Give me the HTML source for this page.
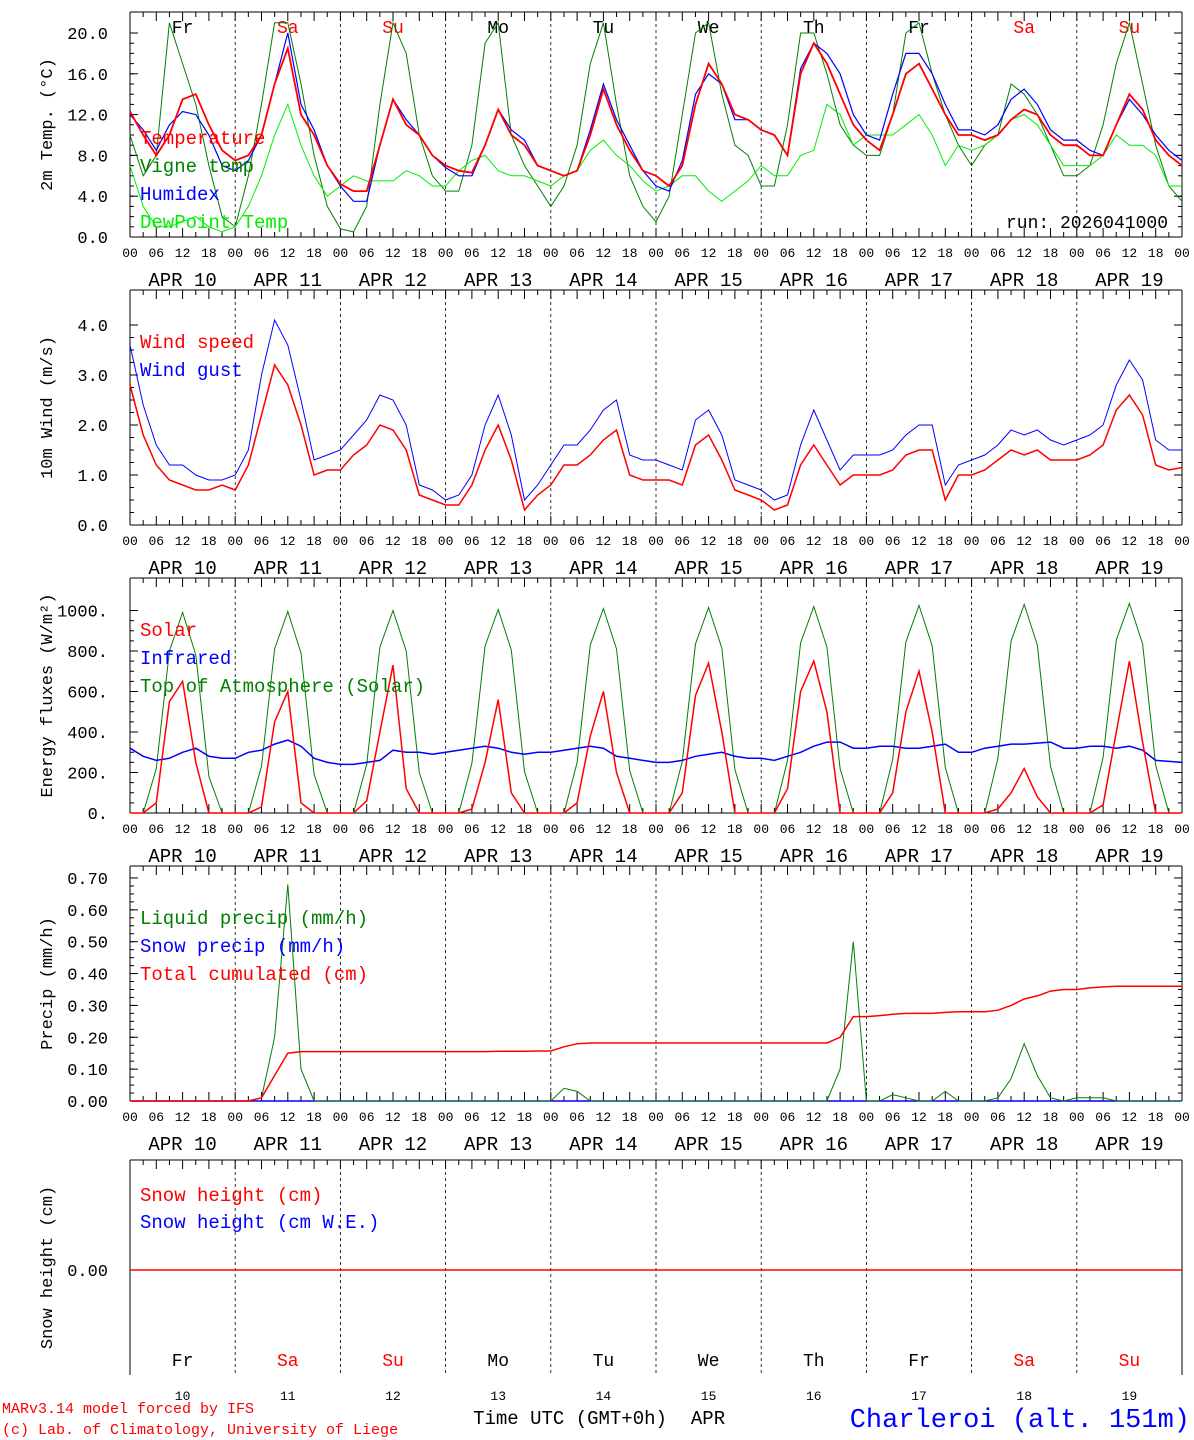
<!DOCTYPE html>
<html><head><meta charset="utf-8"><style>
html,body{margin:0;padding:0;background:#fff}
svg{display:block;font-family:"Liberation Mono","DejaVu Sans Mono",monospace}
</style></head><body>
<svg id="c" width="1194" height="1440" viewBox="0 0 1194 1440"></svg>
<script>
// ---- data (3-hourly, 81 points from Apr 10 00 UTC) ----
const days=["10","11","12","13","14","15","16","17","18","19"];
const dayNames=["Fr","Sa","Su","Mo","Tu","We","Th","Fr","Sa","Su"];
const temperature=[12.3,10,8,10,13.5,14,11,8.5, 7.5,8,10,15,18.5,12,10,7, 5.2,4.5,4.5,9,13.5,11,10,8, 7,6.5,6.3,9,12.5,10,9,7, 6.5,6,6.5,10,14.5,11,8.5,6.5, 6,5,7,13,17,15,12,11.5, 10.5,10,8,16,19,17,14,11, 9.5,8.5,12,16,17,14.5,12,10, 10,9.5,10,11.5,12.5,12,10,9, 9,8,8,11,14,12.5,9.5,8, 7];
const humidex=[12,10.5,8.5,11,12.3,12,10,7, 6.5,7.5,10,15,20,13,10.5,7, 5,3.5,3.5,9,13.5,11.5,10,8, 6.8,6,6,9,12.5,10.5,9.5,7, 6.5,6,6.5,10.5,15,11.5,9,6.5, 5,4.5,7.5,14,16,15,11.5,11.5, 10.5,10,8,16.5,19,18,16,12, 10,9.5,14,18,18,16,13,10.5, 10.5,10,11,13.5,14.5,13,10.5,9.5, 9.5,8.5,8,11,13.5,12,10,8.5, 7.5];
const vigneTemp=[10,6,8,21,17,13,7,2, 1,6,13,21,21,15,8,3, 0.8,0.5,3,13,21,18,10,6, 4.5,4.5,9,19,21,10,7,5, 3,5,9,17,21,13,6,3, 1.5,4,12,20,21,14,9,8, 5,5,11,20,20,16,11,9, 8,8,12,20,21,16,12,9, 7,9,10,15,14,12,9,6, 6,7,11,17,21,15,9,5, 3.5];
const dewPoint=[7,3,1,1,1.5,2,1,0.5, 1,3,6,10,13,9,6,4, 5,6,5.5,5.5,5.5,6.5,6,5, 5,6.5,7.5,8,6.5,6,6,5.5, 5,6,6.5,8.5,9.5,8,7,5.5, 4.5,5,6,6,4.5,3.5,4.5,5.5, 7,6,6,8,8.5,13,12,9, 10,10,10,11,12,10,7,9, 8.5,9,10,11.5,12,11,9,7, 7,7,8,10,9,9,8,5, 5];
const windSpeed=[2.8,1.8,1.2,0.9,0.8,0.7,0.7,0.8, 0.7,1.2,2.2,3.2,2.8,2.0,1.0,1.1, 1.1,1.4,1.6,2.0,1.9,1.5,0.6,0.5, 0.4,0.4,0.8,1.5,2.0,1.3,0.3,0.6, 0.8,1.2,1.2,1.4,1.7,1.9,1.0,0.9, 0.9,0.9,0.8,1.6,1.8,1.3,0.7,0.6, 0.5,0.3,0.4,1.2,1.6,1.2,0.8,1.0, 1.0,1.0,1.1,1.4,1.5,1.5,0.5,1.0, 1.0,1.1,1.3,1.5,1.4,1.5,1.3,1.3, 1.3,1.4,1.6,2.3,2.6,2.2,1.2,1.1, 1.15];
const windGust=[3.6,2.4,1.6,1.2,1.2,1.0,0.9,0.9, 1.0,1.5,3.0,4.1,3.6,2.5,1.3,1.4, 1.5,1.8,2.1,2.6,2.5,2.0,0.8,0.7, 0.5,0.6,1.0,2.0,2.6,1.8,0.5,0.8, 1.2,1.6,1.6,1.9,2.3,2.5,1.4,1.3, 1.3,1.2,1.1,2.1,2.3,1.8,0.9,0.8, 0.7,0.5,0.6,1.6,2.3,1.7,1.1,1.4, 1.4,1.4,1.5,1.8,2.0,2.0,0.8,1.2, 1.3,1.4,1.6,1.9,1.8,1.9,1.7,1.6, 1.7,1.8,2.0,2.8,3.3,2.9,1.7,1.5, 1.5];
const solar=[0,0,50,550,650,250,0,0, 0,0,30,450,600,50,0,0, 0,0,60,400,730,120,0,0, 0,0,20,250,560,100,0,0, 0,0,50,380,600,200,0,0, 0,0,100,580,740,400,0,0, 0,0,120,600,750,500,0,0, 0,0,100,500,700,400,0,0, 0,0,20,100,220,80,0,0, 0,0,40,400,750,350,0,0, 0];
const infrared=[320,280,260,270,300,320,280,270, 270,300,310,340,360,330,270,250, 240,240,250,260,310,300,300,290, 300,310,320,330,320,300,290,300, 300,310,320,330,320,280,270,260, 250,250,260,280,290,300,280,270, 270,260,280,300,330,350,350,320, 320,330,330,320,320,330,340,300, 300,320,330,340,340,345,350,320, 320,330,330,320,330,310,260,255, 250];
const toaSolar=[0,0,220,800,990,780,180,0, 0,0,230,810,995,790,190,0, 0,0,240,820,1000,800,200,0, 0,0,245,825,1005,805,205,0, 0,0,250,830,1010,810,210,0, 0,0,255,835,1015,815,215,0, 0,0,260,840,1020,820,220,0, 0,0,265,845,1025,825,225,0, 0,0,270,850,1030,830,230,0, 0,0,275,855,1035,835,235,0, 0];
const liquidPrecip=[0,0,0,0,0,0,0,0, 0,0,0.01,0.2,0.68,0.1,0,0, 0,0,0,0,0,0,0,0, 0,0,0,0,0,0,0,0, 0,0.04,0.03,0,0,0,0,0, 0,0,0,0,0,0,0,0, 0,0,0,0,0,0,0.1,0.5, 0,0,0.02,0.01,0,0,0.03,0, 0,0,0.01,0.07,0.18,0.08,0.01,0, 0.01,0.01,0.01,0,0,0,0,0, 0];
const snowPrecip=[0,0,0,0,0,0,0,0, 0,0,0,0,0,0,0,0, 0,0,0,0,0,0,0,0, 0,0,0,0,0,0,0,0, 0,0,0,0,0,0,0,0, 0,0,0,0,0,0,0,0, 0,0,0,0,0,0,0,0, 0,0,0,0,0,0,0,0, 0,0,0,0,0,0,0,0, 0,0,0,0,0,0,0,0, 0];
const totalCum=[0,0,0,0,0,0,0,0, 0,0,0.01,0.08,0.15,0.155,0.155,0.155, 0.155,0.155,0.155,0.155,0.155,0.155,0.155,0.155, 0.155,0.155,0.155,0.155,0.156,0.156,0.156,0.157, 0.157,0.17,0.18,0.182,0.182,0.182,0.182,0.182, 0.182,0.182,0.182,0.182,0.182,0.182,0.182,0.182, 0.182,0.182,0.182,0.182,0.182,0.182,0.2,0.265, 0.265,0.268,0.272,0.275,0.275,0.275,0.278,0.28, 0.28,0.28,0.285,0.3,0.32,0.33,0.345,0.35, 0.35,0.355,0.358,0.36,0.36,0.36,0.36,0.36, 0.36];
const snowHeight=new Array(81).fill(0);
const ticks1=[0,4,8,12,16,20], ticks2=[0,1,2,3,4], ticks3=[0,200,400,600,800,1000], ticks4=[0,0.1,0.2,0.3,0.4,0.5,0.6,0.7];

// ---- drawing ----
const NS="http://www.w3.org/2000/svg", svg=document.getElementById('c');
const X0=130,X1=1182,DAYW=(X1-X0)/10;
function xAt(i){return X0+i*3*DAYW/24;}
function el(tag,attrs,parent){const e=document.createElementNS(NS,tag);for(const k in attrs)e.setAttribute(k,attrs[k]);(parent||svg).appendChild(e);return e;}
function txt(s,x,y,attrs,parent){const e=el('text',Object.assign({x:x,y:y},attrs),parent);e.textContent=s;return e;}
const panels=[
 {top:12,bot:237,z:237,k:10.2,ticks:ticks1,fmt:v=>v.toFixed(1),title:"2m Temp. (°C)",name:"temperature-panel"},
 {top:290,bot:525,z:525,k:50,ticks:ticks2,fmt:v=>v.toFixed(1),title:"10m Wind (m/s)",name:"wind-panel"},
 {top:578,bot:813,z:813,k:0.2025,ticks:ticks3,fmt:v=>v.toFixed(0)+".",title:"Energy fluxes (W/m²)",name:"energy-panel"},
 {top:866,bot:1101,z:1101,k:318.6,ticks:ticks4,fmt:v=>v.toFixed(2),title:"Precip (mm/h)",name:"precip-panel"},
 {top:1160,bot:1375,z:1270,k:100,ticks:[0],fmt:v=>v.toFixed(2),title:"Snow height (cm)",name:"snow-panel"}
];
panels.forEach((p,pi)=>{
 const g=el('g',{},svg);
 
 
 el('line',{x1:X0,y1:p.top,x2:X0,y2:p.bot,stroke:'#000'},g);
 el('line',{x1:X1,y1:p.top,x2:X1,y2:p.bot,stroke:'#000'},g);
 el('line',{x1:X0,y1:p.top,x2:X1,y2:p.top,stroke:'#000'},g);
 if(pi<4) el('line',{x1:X0,y1:p.bot,x2:X1,y2:p.bot,stroke:'#000'},g);
 for(let d=1;d<10;d++){const x=X0+d*DAYW;el('line',{x1:x,y1:p.top,x2:x,y2:p.bot,stroke:'#000','stroke-dasharray':'3,3','stroke-width':0.8},g);}
 for(let i=0;i<=80;i++){const x=xAt(i),L=i%2?5:9;
  el('line',{x1:x,y1:p.top,x2:x,y2:p.top+L,stroke:'#000'},g);
  if(pi<4) el('line',{x1:x,y1:p.bot,x2:x,y2:p.bot-L,stroke:'#000'},g);
 }
 p.ticks.forEach(v=>{const y=p.z-v*p.k;
  el('line',{x1:X0,y1:y,x2:X0+8,y2:y,stroke:'#000'},g);el('line',{x1:X1,y1:y,x2:X1-8,y2:y,stroke:'#000'},g);
  txt(p.fmt(v),108,y+6,{'font-size':17,'text-anchor':'end'},g);
 });
 if(pi<3||pi===3){ // minor y ticks
  const st=p.ticks[1]-p.ticks[0];
  for(let v=p.ticks[0];v<=p.ticks[p.ticks.length-1]+1e-9;v+=st/4){const y=p.z-v*p.k;el('line',{x1:X0,y1:y,x2:X0+4,y2:y,stroke:'#000'},g);el('line',{x1:X1,y1:y,x2:X1-4,y2:y,stroke:'#000'},g);}
 }
 const cy=(p.top+p.bot)/2;
 txt(p.title,52,cy,{'font-size':17,'text-anchor':'middle',transform:`rotate(-90 52 ${cy})`},g);
 if(pi<4){
  for(let i=0;i<=80;i+=2){txt(["00","06","12","18"][(i/2)%4],xAt(i),p.bot+20,{'font-size':13,'text-anchor':'middle'},g);}
  days.forEach((d,j)=>txt("APR "+d,X0+(j+0.5)*DAYW,p.bot+49,{'font-size':19,'text-anchor':'middle'},g));
 }
});
// day names top panel & snow panel
dayNames.forEach((n,j)=>{const c=(n==="Sa"||n==="Su")?'#f00':'#000';const x=X0+(j+0.5)*DAYW;
 txt(n,x,33,{'font-size':18,'text-anchor':'middle',fill:c});
 txt(n,x,1366,{'font-size':18,'text-anchor':'middle',fill:c});
 txt(days[j],x,1400,{'font-size':13,'text-anchor':'middle'});
});
function series(arr,p,color,name,w){
 const pts=arr.map((v,i)=>xAt(i).toFixed(1)+","+(p.z-v*p.k).toFixed(1)).join(" ");
 const e=el('polyline',{points:pts,fill:'none',stroke:color,'stroke-width':w||1.2});
 
 
}
const P=panels;
series(vigneTemp,P[0],'#008000','vigne-temp-line',1);
series(dewPoint,P[0],'#00ee00','dewpoint-line',1);
series(humidex,P[0],'#0000ff','humidex-line',1.2);
series(temperature,P[0],'#ff0000','temperature-line',1.8);
series(windGust,P[1],'#0000ff','wind-gust-line',1);
series(windSpeed,P[1],'#ff0000','wind-speed-line',1.5);
series(toaSolar,P[2],'#008000','toa-solar-line',1);
series(infrared,P[2],'#0000ff','infrared-line',1.5);
series(solar,P[2],'#ff0000','solar-line',1.5);
series(snowPrecip,P[3],'#0000ff','snow-precip-line',1.5);
series(liquidPrecip,P[3],'#008000','liquid-precip-line',1);
series(totalCum,P[3],'#ff0000','total-cumulated-line',1.5);
series(snowHeight,P[4],'#ff0000','snow-height-line',1.5);
// legends
function leg(s,y,c,n){const e=txt(s,140,y,{'font-size':19,fill:c});}
leg("Temperature",144,'#f00','legend-temperature');leg("Vigne temp",172,'#008000','legend-vigne');leg("Humidex",200,'#00f','legend-humidex');leg("DewPoint Temp",228,'#00ee00','legend-dewpoint');
leg("Wind speed",348,'#f00','legend-wind-speed');leg("Wind gust",376,'#00f','legend-wind-gust');
leg("Solar",636,'#f00','legend-solar');leg("Infrared",664,'#00f','legend-infrared');leg("Top of Atmosphere (Solar)",692,'#008000','legend-toa');
leg("Liquid precip (mm/h)",924,'#008000','legend-liquid');leg("Snow precip (mm/h)",952,'#00f','legend-snow-precip');leg("Total cumulated (cm)",980,'#f00','legend-total');
leg("Snow height (cm)",1201,'#f00','legend-snow-height');leg("Snow height (cm W.E.)",1228,'#00f','legend-snow-we');
txt("run: 2026041000",1168,228,{'font-size':18,'text-anchor':'end'});
txt("Time UTC (GMT+0h)",570,1424,{'font-size':19,'text-anchor':'middle'});
txt("APR",708,1424,{'font-size':19,'text-anchor':'middle'});
txt("MARv3.14 model forced by IFS",2,1413,{'font-size':15,fill:'#f00'});
txt("(c) Lab. of Climatology, University of Liege",2,1434,{'font-size':15,fill:'#f00'});
txt("Charleroi (alt. 151m)",1190,1427,{'font-size':27,fill:'#00f','text-anchor':'end'});
</script>
</body></html>
